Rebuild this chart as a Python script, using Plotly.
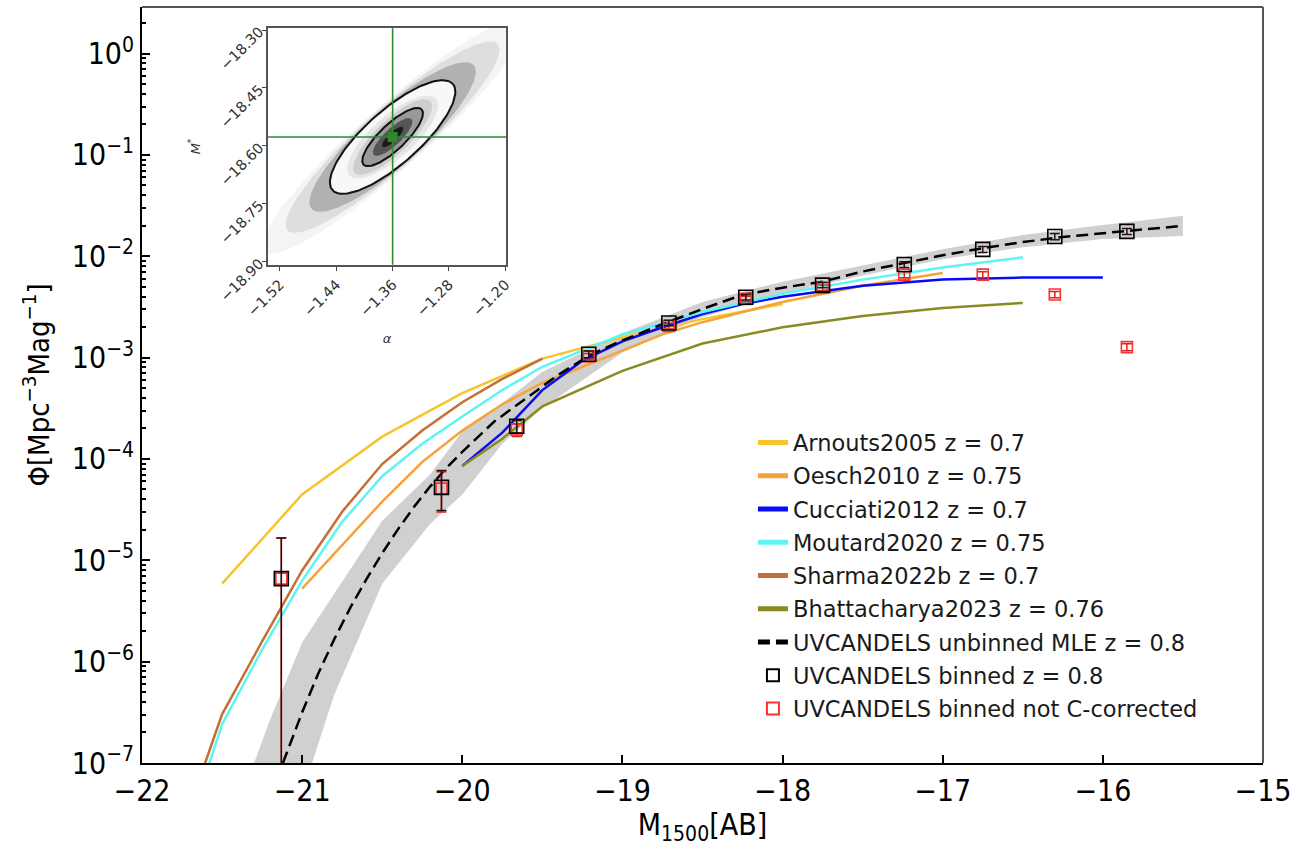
import numpy as np
import plotly.graph_objects as go

# ---------------- data ----------------
# Literature luminosity functions: M1500 and log10(phi)
arnouts_M = [-21.5, -21.0, -20.5, -20.0, -19.5, -19.0, -18.5, -18.0]
arnouts_logphi = [-5.23, -4.35, -3.78, -3.35, -3.01, -2.80, -2.62, -2.47]

oesch_M = [-21.0, -20.75, -20.5, -20.25, -20.0, -19.75, -19.5, -19.0, -18.75, -18.5, -18.25, -18.0, -17.5, -17.0]
oesch_logphi = [-5.28, -4.85, -4.42, -4.03, -3.72, -3.46, -3.25, -2.93, -2.77, -2.65, -2.55, -2.45, -2.29, -2.165]

cucciati_M = [-20.0, -19.75, -19.5, -19.25, -19.0, -18.75, -18.5, -18.25, -18.0, -17.5, -17.0, -16.5, -16.0]
cucciati_logphi = [-4.07, -3.74, -3.32, -3.03, -2.84, -2.70, -2.57, -2.47, -2.40, -2.29, -2.23, -2.21, -2.21]

moutard_M = [-21.6, -21.5, -21.25, -21.0, -20.75, -20.5, -20.25, -20.0, -19.75, -19.5, -19.0, -18.5, -18.0, -17.5, -17.0, -16.5]
moutard_logphi = [-7.1, -6.62, -5.88, -5.20, -4.62, -4.17, -3.85, -3.58, -3.32, -3.09, -2.77, -2.55, -2.37, -2.23, -2.11, -2.01]

sharma_M = [-21.65, -21.5, -21.25, -21.0, -20.75, -20.5, -20.25, -20.0, -19.75, -19.5]
sharma_logphi = [-7.2, -6.52, -5.80, -5.10, -4.52, -4.05, -3.72, -3.44, -3.21, -3.01]

bhatt_M = [-20.0, -19.75, -19.5, -19.0, -18.5, -18.0, -17.5, -17.0, -16.5]
bhatt_logphi = [-4.07, -3.80, -3.48, -3.13, -2.86, -2.70, -2.59, -2.51, -2.46]

# UVCANDELS unbinned MLE (dashed) and its uncertainty band
mle_M = [-21.12, -21.0, -20.9, -20.8, -20.7, -20.6, -20.5, -20.4, -20.3, -20.2, -20.1, -20.0,
         -19.8, -19.6, -19.4, -19.2, -19.0, -18.75, -18.5, -18.25, -18.0, -17.75, -17.5,
         -17.25, -17.0, -16.75, -16.5, -16.25, -16.0, -15.75, -15.5]
mle_logphi = [-7.0, -6.50, -6.12, -5.78, -5.47, -5.19, -4.93, -4.69, -4.47, -4.27, -4.09, -3.93,
              -3.63, -3.40, -3.17, -2.97, -2.83, -2.67, -2.52, -2.38, -2.31, -2.25, -2.15,
              -2.07, -1.99, -1.92, -1.86, -1.81, -1.77, -1.735, -1.70]

band_M = [-21.3, -21.2, -21.0, -20.8, -20.5, -20.2, -20.0, -19.75, -19.5, -19.0, -18.5, -18.0,
          -17.5, -17.0, -16.5, -16.0, -15.5]
band_hi_logphi = [-7.0, -6.57, -5.81, -5.33, -4.61, -4.15, -3.73, -3.45, -3.14, -2.76, -2.45,
                  -2.25, -2.09, -1.93, -1.79, -1.69, -1.60]
band_lo_logphi = [-7.6, -7.6, -7.3, -6.33, -5.23, -4.64, -4.35, -3.85, -3.50, -2.95, -2.60,
                  -2.37, -2.19, -2.03, -1.91, -1.83, -1.80]

# UVCANDELS binned points
bin_M = [-21.13, -20.13, -19.66, -19.21, -18.71, -18.23, -17.75, -17.24, -16.75, -16.30, -15.85]
bin_phi = [6.6e-6, 5.25e-5, 2.1e-4, 1.08e-3, 2.2e-3, 3.95e-3, 5.2e-3, 8.3e-3, 1.17e-2, 1.57e-2, 1.76e-2]
bin_err_up = [1.0e-5, 2.45e-5, 3.0e-5, 8e-5, 1.4e-4, 2.4e-4, 3.2e-4, 5.5e-4, 8e-4, 1.1e-3, 1.2e-3]
bin_err_dn = [6.55e-6, 2.15e-5, 3.0e-5, 8e-5, 1.4e-4, 2.4e-4, 3.2e-4, 5.5e-4, 8e-4, 1.1e-3, 1.2e-3]

nc_phi = [6.6e-6, 5.1e-5, 1.95e-4, 1.03e-3, 2.05e-3, 3.8e-3, 4.9e-3, 6.6e-3, 6.6e-3, 4.2e-3, 1.27e-3]
nc_err_up = [1.0e-5, 2.4e-5, 2.8e-5, 7e-5, 1.3e-4, 2.3e-4, 3.0e-4, 4.5e-4, 4.5e-4, 3.0e-4, 1.0e-4]
nc_err_dn = [6.55e-6, 2.1e-5, 2.8e-5, 7e-5, 1.3e-4, 2.3e-4, 3.0e-4, 4.5e-4, 4.5e-4, 3.0e-4, 1.0e-4]

# Inset: posterior of (alpha, M*)
best_alpha = -1.36
best_Mstar = -18.577
# ellipse semi-axis vectors (d_alpha, d_Mstar) for the two contours
outer_A = [0.0853, 0.138]
outer_B = [-0.0257, 0.0513]
inner_A = [0.0412, 0.0716]
inner_B = [-0.0128, 0.0238]

y_tickvals = [1e0, 1e-1, 1e-2, 1e-3, 1e-4, 1e-5, 1e-6, 1e-7]
y_ticktext = ["10<sup>0</sup>", "10<sup>−1</sup>", "10<sup>−2</sup>", "10<sup>−3</sup>",
              "10<sup>−4</sup>", "10<sup>−5</sup>", "10<sup>−6</sup>", "10<sup>−7</sup>"]
x_tickvals = [-22, -21, -20, -19, -18, -17, -16, -15]
inset_xticks = [-1.52, -1.44, -1.36, -1.28, -1.20]
inset_yticks = [-18.30, -18.45, -18.60, -18.75, -18.90]

# ---------------- figure ----------------
def p(v):
    return [10 ** a for a in v]

fig = go.Figure()

# uncertainty band
fig.add_trace(go.Scatter(x=band_M + band_M[::-1], y=p(band_hi_logphi) + p(band_lo_logphi)[::-1],
                         fill="toself", fillcolor="rgba(200,200,200,0.85)", line=dict(width=0),
                         mode="lines", showlegend=False, hoverinfo="skip"))

lit = [
    ("Arnouts2005 z = 0.7", arnouts_M, arnouts_logphi, "#F7C52B", 1),
    ("Oesch2010 z = 0.75", oesch_M, oesch_logphi, "#F5A33A", 2),
    ("Cucciati2012 z = 0.7", cucciati_M, cucciati_logphi, "#0A0AF5", 3),
    ("Moutard2020 z = 0.75", moutard_M, moutard_logphi, "#5DF4F4", 4),
    ("Sharma2022b z = 0.7", sharma_M, sharma_logphi, "#C46F35", 5),
    ("Bhattacharya2023 z = 0.76", bhatt_M, bhatt_logphi, "#8A8A22", 6),
]
for name, xm, lp, col, rank in lit:
    fig.add_trace(go.Scatter(x=xm, y=p(lp), mode="lines", name=name,
                             line=dict(color=col, width=2.5), legendrank=rank,
                             legendgroup=name))

fig.add_trace(go.Scatter(x=mle_M, y=p(mle_logphi), mode="lines",
                         name="UVCANDELS unbinned MLE z = 0.8",
                         line=dict(color="black", width=2.5, dash="12px,6px"),
                         legendrank=7, legendgroup="mle"))

fig.add_trace(go.Scatter(x=bin_M, y=nc_phi, mode="markers",
                         name="UVCANDELS binned not C-corrected",
                         marker=dict(symbol="square-open", size=11, color="#FF3030",
                                     line=dict(width=1.6, color="#FF3030")),
                         error_y=dict(type="data", array=nc_err_up, arrayminus=nc_err_dn,
                                      color="#E02020", thickness=1.5, width=5),
                         legendrank=9, legendgroup="nc"))
fig.add_trace(go.Scatter(x=bin_M, y=bin_phi, mode="markers",
                         name="UVCANDELS binned z = 0.8",
                         marker=dict(symbol="square-open", size=14, color="black",
                                     line=dict(width=1.6, color="black")),
                         error_y=dict(type="data", array=bin_err_up, arrayminus=bin_err_dn,
                                      color="#2a1010", thickness=1.5, width=5),
                         legendrank=8, legendgroup="bin"))

# ---------------- inset ----------------
def ellipse(A, B, sa, sb, n=160):
    t = np.linspace(0, 2 * np.pi, n)
    xs = best_alpha + sa * A[0] * np.cos(t) + sb * B[0] * np.sin(t)
    ys = best_Mstar + sa * A[1] * np.cos(t) + sb * B[1] * np.sin(t)
    return xs, ys

layers = [
    (outer_A, outer_B, 2.15, 1.18, "rgba(0,0,0,0.045)"),
    (outer_A, outer_B, 1.75, 1.10, "rgba(0,0,0,0.09)"),
    (outer_A, outer_B, 1.35, 1.05, "rgba(0,0,0,0.20)"),
    (outer_A, outer_B, 1.0, 1.0, "#f8f8f8"),
    (outer_A, outer_B, 0.72, 0.78, "#e6e6e6"),
    (inner_A, inner_B, 1.3, 1.3, "#cdcdcd"),
    (inner_A, inner_B, 1.0, 1.0, "#999999"),
    (inner_A, inner_B, 0.65, 0.65, "#555555"),
    (inner_A, inner_B, 0.35, 0.35, "#1a1a1a"),
]
for A, B, sa, sb, col in layers:
    xs, ys = ellipse(A, B, sa, sb)
    fig.add_trace(go.Scatter(x=xs, y=ys, xaxis="x2", yaxis="y2", fill="toself",
                             fillcolor=col, line=dict(width=0), mode="lines",
                             showlegend=False, hoverinfo="skip"))
for A, B in [(outer_A, outer_B), (inner_A, inner_B)]:
    xs, ys = ellipse(A, B, 1.0, 1.0)
    fig.add_trace(go.Scatter(x=xs, y=ys, xaxis="x2", yaxis="y2", mode="lines",
                             line=dict(color="#111111", width=2), showlegend=False,
                             hoverinfo="skip"))
fig.add_trace(go.Scatter(x=[best_alpha], y=[best_Mstar], xaxis="x2", yaxis="y2",
                         mode="markers", marker=dict(symbol="square", size=10, color="#2A8A2A"),
                         showlegend=False, hoverinfo="skip"))

green = "#2E8B2E"
shapes = [
    dict(type="line", xref="x2", yref="y2 domain", x0=best_alpha, x1=best_alpha, y0=0, y1=1,
         line=dict(color=green, width=1.6), layer="above"),
    dict(type="line", xref="x2 domain", yref="y2", x0=0, x1=1, y0=best_Mstar, y1=best_Mstar,
         line=dict(color=green, width=1.6), layer="above"),
    # top and right spines of the main axes (grey)
    dict(type="line", xref="paper", yref="paper", x0=0, x1=1, y0=1, y1=1,
         line=dict(color="#555555", width=2)),
    dict(type="line", xref="paper", yref="paper", x0=1, x1=1, y0=0, y1=1,
         line=dict(color="#555555", width=2)),
]

cond = "DejaVu Sans Condensed, DejaVu Sans"
tickfont_main = dict(family=cond, size=30, color="black")

fig.update_layout(
    width=1312, height=846,
    margin=dict(l=142, r=49, t=3, b=83),
    paper_bgcolor="white", plot_bgcolor="white",
    shapes=shapes,
    xaxis=dict(range=[-22, -15], tickvals=x_tickvals, ticks="inside", ticklen=8, tickwidth=1.5,
               tickcolor="black", showline=True, linecolor="black", linewidth=2, mirror=False,
               showgrid=False, zeroline=False, tickfont=tickfont_main,
               title=dict(text="M<sub>1500</sub>[AB]", standoff=2,
                          font=dict(family=cond, size=30, color="black"))),
    yaxis=dict(type="log", range=[-7, 0.46], tickvals=y_tickvals, ticktext=y_ticktext,
               ticks="inside", ticklen=8, tickwidth=1.5, tickcolor="black",
               minor=dict(ticks="inside", ticklen=4, tickcolor="black", dtick="D1", showgrid=False),
               showline=True, linecolor="black", linewidth=2, mirror=False,
               showgrid=False, zeroline=False, tickfont=tickfont_main,
               title=dict(text="Φ[Mpc<sup>−3</sup>Mag<sup>−1</sup>]", standoff=14,
                          font=dict(family=cond, size=29, color="black"))),
    xaxis2=dict(domain=[0.1124, 0.3247], anchor="y2", range=[-1.537, -1.199],
                tickvals=inset_xticks, tickformat=".2f", tickangle=-45,
                ticks="outside", ticklen=4, tickcolor="#444444", showline=True,
                linecolor="#555555", linewidth=1.5, mirror=True, showgrid=False, zeroline=False,
                tickfont=dict(family="DejaVu Sans", size=14.5, color="#333333"),
                title=dict(text="<i>α</i>", standoff=16,
                           font=dict(family="DejaVu Sans", size=13, color="#333333"))),
    yaxis2=dict(domain=[0.659, 0.972], anchor="x2", range=[-18.908, -18.295],
                tickvals=inset_yticks, tickformat=".2f", tickangle=-45,
                ticks="outside", ticklen=4, tickcolor="#444444", showline=True,
                linecolor="#555555", linewidth=1.5, mirror=True, showgrid=False, zeroline=False,
                tickfont=dict(family="DejaVu Sans", size=14.5, color="#333333"),
                title=dict(text="<i>M</i><sup>*</sup>", standoff=14,
                           font=dict(family="DejaVu Sans", size=13, color="#333333"))),
    legend=dict(x=0.545, y=0.452, xanchor="left", yanchor="top", bgcolor="rgba(0,0,0,0)",
                font=dict(family="DejaVu Sans", size=22.5, color="#1a1a1a"),
                tracegroupgap=1, itemwidth=30, itemsizing="constant"),
    showlegend=True,
)

fig.write_html("out.html", config={"displayModeBar": False},
               post_script="document.body.style.margin='0px';document.body.style.padding='0px';")
